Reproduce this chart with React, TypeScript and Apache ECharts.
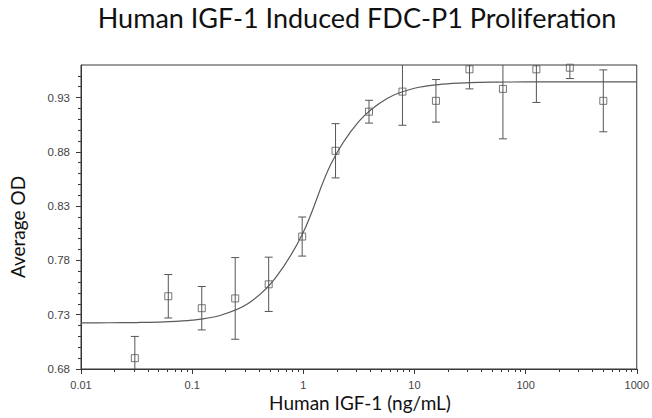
import React, { useEffect, useRef } from "react";
import * as echarts from "echarts";

// ---- data ----
const doses = [0.0305, 0.061, 0.122, 0.244, 0.488, 0.977, 1.95, 3.9, 7.8, 15.6, 31.25, 62.5, 125, 250, 500];
const meanOD = [0.69, 0.747, 0.736, 0.745, 0.758, 0.802, 0.881, 0.917, 0.9355, 0.927, 0.956, 0.938, 0.956, 0.9575, 0.927];
const errOD = [0.02, 0.02, 0.02, 0.0376, 0.025, 0.018, 0.025, 0.0105, 0.031, 0.0196, 0.018, 0.046, 0.0305, 0.01, 0.0285];

// fitted curve, points
const curveX = [0.01, 0.0178, 0.0316, 0.0562, 0.1, 0.178, 0.316, 0.562, 1, 1.778, 3.162, 5.623, 10, 17.78, 31.62, 56.23, 100, 1000];
const curveY = [0.7225, 0.7226, 0.7228, 0.7234, 0.725, 0.7293, 0.74, 0.764, 0.806, 0.869, 0.908, 0.929, 0.9386, 0.9423, 0.9437, 0.9442, 0.9444, 0.9445];

// axes
const xMin = 0.01;
const xMax = 1000;
const xTickValues = [0.01, 0.1, 1, 10, 100, 1000];
const xMinorMultipliers = [2, 3, 4, 5, 6, 7, 8, 9];
const xDecades = [0.01, 0.1, 1, 10, 100];
const yMin = 0.68;
const yMax = 0.96;
const yTickValues = [0.68, 0.73, 0.78, 0.83, 0.88, 0.93];
const yMinorValues = [0.69, 0.7, 0.71, 0.72, 0.74, 0.75, 0.76, 0.77, 0.79, 0.8, 0.81, 0.82, 0.84, 0.85, 0.86, 0.87, 0.89, 0.9, 0.91, 0.92, 0.94, 0.95];

const titleText = "Human IGF-1 Induced FDC-P1 Proliferation";
const xTitle = "Human IGF-1 (ng/mL)";
const yTitle = "Average OD";

const xMinorValues: number[] = [];
xDecades.forEach((d) => xMinorMultipliers.forEach((m) => xMinorValues.push(+(d * m).toPrecision(3))));

const FRAME = "#383838";
const MARK = "#555555";
const LABEL_FONT = "'Liberation Sans', Arial, sans-serif";
const TITLE_FONT = "Lato, 'Open Sans', sans-serif";

export default function App() {
  const ref = useRef<HTMLDivElement>(null);
  useEffect(() => {
    if (!ref.current) return;
    const chart = echarts.init(ref.current, null, { renderer: "svg" });
    const fmtX = (v: number) => String(+Number(v).toPrecision(3));
    const option: any = {
      animation: false,
      backgroundColor: "#ffffff",
      grid: {
        left: 81,
        right: 15,
        top: 65,
        bottom: 49,
        show: true,
        borderColor: FRAME,
        borderWidth: 1,
        backgroundColor: "transparent",
      },
      graphic: [
        {
          type: "text",
          x: 357,
          y: 17,
          style: {
            text: titleText,
            fontFamily: TITLE_FONT,
            fontSize: 27,
            fill: "#111",
            align: "center",
            verticalAlign: "middle",
          },
        },
        {
          type: "text",
          x: 360,
          y: 402,
          style: {
            text: xTitle,
            fontFamily: TITLE_FONT,
            fontSize: 19,
            fill: "#111",
            align: "center",
            verticalAlign: "middle",
          },
        },
        {
          type: "text",
          x: 17,
          y: 227,
          rotation: Math.PI / 2,
          style: {
            text: yTitle,
            fontFamily: TITLE_FONT,
            fontSize: 19,
            fill: "#111",
            align: "center",
            verticalAlign: "middle",
          },
        },
      ],
      xAxis: [
        {
          type: "log",
          logBase: 10,
          min: xMin,
          max: xMax,
          splitLine: { show: false },
          axisLine: { show: true, lineStyle: { color: FRAME, width: 1 } },
          axisTick: { show: true, length: 5, customValues: xTickValues, lineStyle: { color: FRAME } },
          axisLabel: {
            customValues: xTickValues,
            formatter: fmtX,
            color: "#444",
            fontFamily: LABEL_FONT,
            fontSize: 11,
            margin: 10,
          },
        },
        {
          type: "log",
          logBase: 10,
          min: xMin,
          max: xMax,
          position: "bottom",
          splitLine: { show: false },
          axisLine: { show: false },
          axisTick: { show: true, length: 3, customValues: xMinorValues, lineStyle: { color: FRAME } },
          axisLabel: { show: false },
        },
      ],
      yAxis: [
        {
          type: "value",
          min: yMin,
          max: yMax,
          splitLine: { show: false },
          axisLine: { show: true, lineStyle: { color: FRAME, width: 1 } },
          axisTick: { show: true, length: 5, customValues: yTickValues, lineStyle: { color: FRAME } },
          axisLabel: {
            customValues: yTickValues,
            formatter: (v: number) => Number(v).toFixed(2),
            color: "#444",
            fontFamily: LABEL_FONT,
            fontSize: 11.5,
            margin: 11,
          },
        },
        {
          type: "value",
          min: yMin,
          max: yMax,
          position: "left",
          splitLine: { show: false },
          axisLine: { show: false },
          axisTick: { show: true, length: 3, customValues: yMinorValues, lineStyle: { color: FRAME } },
          axisLabel: { show: false },
        },
      ],
      series: [
        {
          type: "line",
          data: curveX.map((x, i) => [x, curveY[i]]),
          xAxisIndex: 0,
          yAxisIndex: 0,
          showSymbol: false,
          symbol: "none",
          smooth: 0.35,
          lineStyle: { color: "#5a5a5a", width: 1.2 },
          silent: true,
          z: 2,
        },
        {
          type: "custom",
          xAxisIndex: 0,
          yAxisIndex: 0,
          clip: true,
          silent: true,
          data: doses.map((x, i) => [x, meanOD[i] - errOD[i], meanOD[i] + errOD[i]]),
          encode: { x: 0, y: [1, 2] },
          renderItem: (_params: any, api: any) => {
            const x = api.value(0);
            const top = api.coord([x, api.value(2)]);
            const bot = api.coord([x, api.value(1)]);
            const cap = 4;
            const style = { stroke: MARK, lineWidth: 1, fill: null };
            return {
              type: "group",
              children: [
                { type: "line", shape: { x1: top[0], y1: top[1], x2: bot[0], y2: bot[1] }, style },
                { type: "line", shape: { x1: top[0] - cap, y1: top[1], x2: top[0] + cap, y2: top[1] }, style },
                { type: "line", shape: { x1: bot[0] - cap, y1: bot[1], x2: bot[0] + cap, y2: bot[1] }, style },
              ],
            };
          },
          z: 3,
        },
        {
          type: "scatter",
          xAxisIndex: 0,
          yAxisIndex: 0,
          data: doses.map((x, i) => [x, meanOD[i]]),
          symbol: "rect",
          symbolSize: 7,
          itemStyle: { color: "rgba(0,0,0,0)", borderColor: MARK, borderWidth: 1 },
          silent: true,
          z: 4,
        },
      ],
    };
    chart.setOption(option);
    return () => chart.dispose();
  }, []);
  return (
    <div
      ref={ref}
      style={{ position: "fixed", left: 0, top: 0, width: 652, height: 418, background: "#fff" }}
    />
  );
}
